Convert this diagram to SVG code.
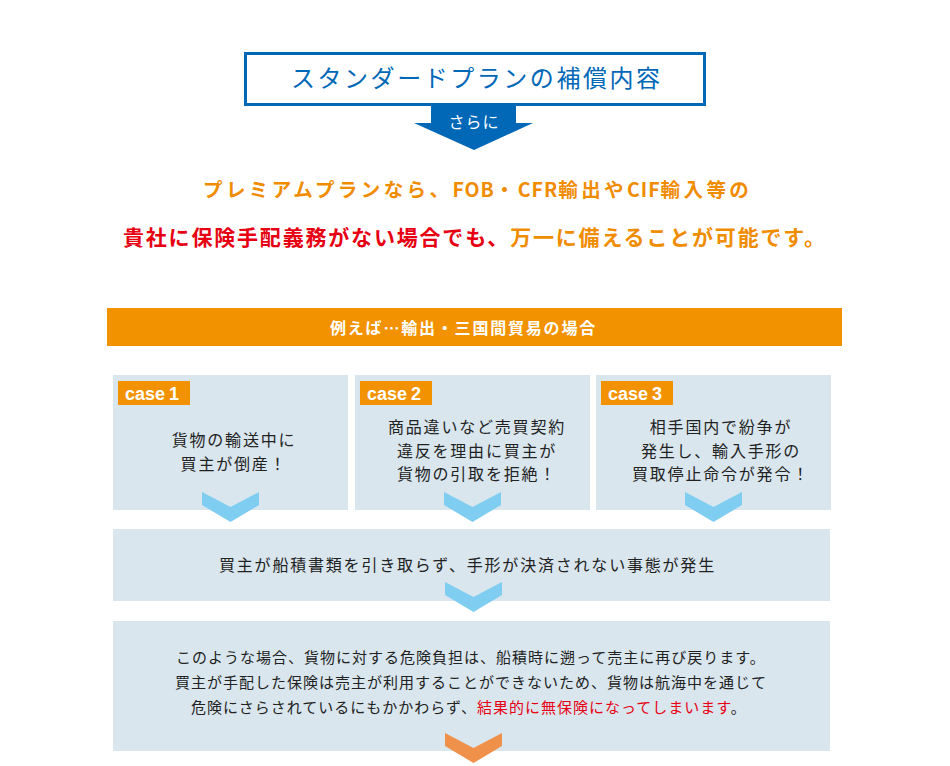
<svg xmlns="http://www.w3.org/2000/svg" width="950" height="766" viewBox="0 0 950 766">
<style>
text{font-family:"Noto Sans CJK JP","Noto Sans",sans-serif;}
.box{fill:#d9e6ee;}
.body{font-size:16px;fill:#222;letter-spacing:1.8px;}
.small{font-size:15px;fill:#222;letter-spacing:1px;}
.lbl{fill:#f39200;}
.lbltx{font-family:"Liberation Sans",Arial,sans-serif;font-weight:bold;font-size:18px;fill:#fff;}
.chev{fill:#7fcdf1;}
.chevo{fill:#f0914b;}
.or{fill:#f08c00;}
.rd{fill:#e60012;}
.lat{letter-spacing:1px;}
</style>
<rect width="950" height="766" fill="#fff"/>
<g id="title">
<rect x="245.5" y="53.5" width="459" height="51" fill="#fff" stroke="#0068b7" stroke-width="3"/>
<text x="291" y="87" font-size="24" fill="#0068b7" textLength="369" lengthAdjust="spacing">スタンダードプランの補償内容</text>
</g>
<g id="headline">
<text x="203" y="197" font-size="19.5" font-weight="bold" class="or" letter-spacing="3.4">プレミアムプランなら、<tspan class="lat">FOB</tspan>・<tspan class="lat">CFR</tspan>輸出や<tspan class="lat">CIF</tspan>輸入等の</text>
<text x="123" y="245" font-size="21" font-weight="bold" textLength="702" lengthAdjust="spacing"><tspan class="rd">貴社に保険手配義務がない場合でも、</tspan><tspan class="or">万一に備えることが可能です。</tspan></text>
</g>
<g id="banner">
<rect x="107" y="308" width="735" height="38" fill="#f39200"/>
<text x="330" y="334" font-size="16" font-weight="bold" fill="#fff" letter-spacing="1.8">例えば…輸出・三国間貿易の場合</text>
</g>
<g id="case1">
<rect class="box" x="113" y="375" width="235" height="135"/>
<rect class="lbl" x="118" y="381" width="72" height="24"/>
<text class="lbltx" x="125" y="400">case<tspan dx="4">1</tspan></text>
<text class="body" x="234" y="446" text-anchor="middle">貨物の輸送中に</text>
<text class="body" x="234" y="470" text-anchor="middle">買主が倒産！</text>
</g>
<g id="case2">
<rect class="box" x="355" y="375" width="235" height="135"/>
<rect class="lbl" x="360" y="381" width="72" height="24"/>
<text class="lbltx" x="367" y="400">case<tspan dx="4">2</tspan></text>
<text class="body" x="477" y="433" text-anchor="middle">商品違いなど売買契約</text>
<text class="body" x="477" y="457" text-anchor="middle">違反を理由に買主が</text>
<text class="body" x="477" y="480" text-anchor="middle">貨物の引取を拒絶！</text>
</g>
<g id="case3">
<rect class="box" x="596" y="375" width="235" height="135"/>
<rect class="lbl" x="601" y="381" width="72" height="24"/>
<text class="lbltx" x="608" y="400">case<tspan dx="4">3</tspan></text>
<text class="body" x="721" y="433" text-anchor="middle">相手国内で紛争が</text>
<text class="body" x="721" y="457" text-anchor="middle">発生し、輸入手形の</text>
<text class="body" x="721" y="480" text-anchor="middle">買取停止命令が発令！</text>
</g>
<g id="result">
<rect class="box" x="113" y="529" width="717" height="72"/>
<text class="body" x="219" y="571" letter-spacing="1.9">買主が船積書類を引き取らず、手形が決済されない事態が発生</text>
</g>
<g id="conclusion">
<rect class="box" x="113" y="621" width="717" height="130"/>
<text class="small" x="176" y="663">このような場合、貨物に対する危険負担は、船積時に遡って売主に再び戻ります。</text>
<text class="small" x="175" y="688">買主が手配した保険は売主が利用することができないため、貨物は航海中を通じて</text>
<text class="small" x="191" y="713">危険にさらされているにもかかわらず、<tspan fill="#e60012">結果的に無保険になってしまいます</tspan>。</text>
</g>
<g id="connectors">
<g id="sarani">
<polygon points="431,105 516,105 516,123 533,123 474,150 414,123 431,123" fill="#0068b7"/>
<text x="474" y="128" font-size="16" fill="#fff" text-anchor="middle" letter-spacing="1">さらに</text>
</g>
<polygon class="chev" points="202,492 230.5,507 259,492 259,505 230.5,522 202,505"/>
<polygon class="chev" points="444,492 472.5,507 501,492 501,505 472.5,522 444,505"/>
<polygon class="chev" points="685,492 713.5,507 742,492 742,505 713.5,522 685,505"/>
<polygon class="chev" points="445,582 473.5,597 502,582 502,595 473.5,612 445,595"/>
<polygon class="chevo" points="445,733 473.5,748 502,733 502,746 473.5,763 445,746"/>
</g>
</svg>
